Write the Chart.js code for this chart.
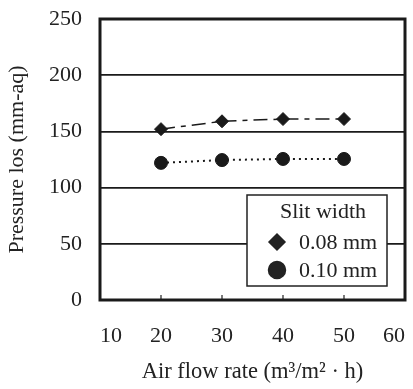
<!DOCTYPE html>
<html>
<head>
<meta charset="utf-8">
<script src="https://cdn.jsdelivr.net/npm/chart.js@4"></script>
<style>
  html, body { margin: 0; padding: 0; background: #fff; }
</style>
</head>
<body>
<canvas id="myChart" width="413" height="389"></canvas>
<script>
// values
var airFlow = [20, 30, 40, 50];
var slit008 = [152, 159, 161, 161];
var slit010 = [122, 124.5, 125.5, 125.5];
var seriesLabels = ['0.08 mm', '0.10 mm'];
var legendTitle = 'Slit width';
var xTitle = 'Air flow rate (m\u00B3/m\u00B2 \u00B7 h)';
var yTitle = 'Pressure los (mm-aq)';

var FONT = 'Liberation Serif';

function pts(ys) {
    return airFlow.map(function (x, i) { return { x: x, y: ys[i] }; });
}

// legend box, frame and inward x ticks
var extras = {
    id: 'extras',
    afterDraw: function (chart) {
        var ctx = chart.ctx;
        var a = chart.chartArea;
        var xs = chart.scales.x;

        // legend box inside plot
        var w = 140, h = 91;
        var bx = a.right - 18 - w, by = a.bottom - 14 - h;
        ctx.save();
        ctx.fillStyle = '#fff';
        ctx.fillRect(bx, by, w, h);
        ctx.lineWidth = 1.5;
        ctx.strokeStyle = '#222';
        ctx.strokeRect(bx, by, w, h);
        ctx.fillStyle = '#222';
        ctx.font = '22px "' + FONT + '"';
        ctx.textBaseline = 'middle';
        ctx.textAlign = 'center';
        ctx.fillText(legendTitle, bx + w / 2 + 6, by + 17);
        ctx.textAlign = 'left';
        chart.data.datasets.forEach(function (ds, i) {
            var yy = by + 47 + i * 28;
            ctx.fillStyle = '#222';
            ctx.strokeStyle = '#222';
            Chart.helpers.drawPoint(ctx, {
                pointStyle: ds.pointStyle,
                radius: ds.pointStyle === 'circle' ? 8.5 : 8,
                borderWidth: 1
            }, bx + 30, yy);
            ctx.fillStyle = '#222';
            ctx.fillText(ds.label, bx + 52, yy + 1);
        });

        // inward tick marks on the bottom axis
        ctx.strokeStyle = '#222';
        ctx.lineWidth = 1.2;
        airFlow.forEach(function (v) {
            var px = xs.getPixelForValue(v);
            ctx.beginPath();
            ctx.moveTo(px, a.bottom);
            ctx.lineTo(px, a.bottom - 5);
            ctx.stroke();
        });

        // plot frame
        ctx.lineWidth = 3;
        ctx.strokeStyle = '#1a1a1a';
        ctx.strokeRect(a.left, a.top, a.right - a.left, a.bottom - a.top);
        ctx.restore();
    }
};

var ctx = document.querySelector('#myChart').getContext('2d');
var myChart = new Chart(ctx, {
    type: 'line',
    data: {
        datasets: [{
            label: seriesLabels[0],
            data: pts(slit008),
            pointStyle: 'rectRot',
            pointRadius: 6.5,
            backgroundColor: '#1a1a1a',
            borderColor: '#1a1a1a',
            pointBorderWidth: 1,
            borderWidth: 1.5,
            borderDash: [14, 6, 5, 6]
        }, {
            label: seriesLabels[1],
            data: pts(slit010),
            pointStyle: 'circle',
            pointRadius: 6.5,
            backgroundColor: '#1a1a1a',
            borderColor: '#1a1a1a',
            pointBorderWidth: 1,
            borderWidth: 2,
            borderDash: [2, 4]
        }]
    },
    options: {
        responsive: false,
        animation: false,
        layout: { padding: { left: 0, right: 8, top: 19, bottom: 0 } },
        plugins: {
            legend: { display: false },
            tooltip: { enabled: false }
        },
        scales: {
            x: {
                type: 'linear',
                min: 10,
                max: 60,
                ticks: {
                    stepSize: 10,
                    align: 'inner',
                    color: '#222',
                    padding: 23,
                    font: { family: FONT, size: 22 }
                },
                grid: { display: false, drawTicks: false },
                border: { display: false },
                title: {
                    display: true,
                    text: xTitle,
                    color: '#222',
                    font: { family: FONT, size: 22.5 },
                    padding: { top: 0, bottom: 3 }
                },
                afterFit: function (s) {
                    s.height = 89;
                    s.paddingLeft = 0;
                    s.paddingRight = 0;
                }
            },
            y: {
                min: 0,
                max: 250,
                ticks: {
                    stepSize: 50,
                    color: '#222',
                    padding: 18,
                    font: { family: FONT, size: 22 }
                },
                grid: { color: '#1a1a1a', lineWidth: 1.8, drawTicks: false },
                border: { display: false },
                title: {
                    display: true,
                    text: yTitle,
                    color: '#222',
                    font: { family: FONT, size: 22 },
                    padding: { top: 4, bottom: 0 }
                },
                afterFit: function (s) {
                    s.width = 100;
                    s.paddingTop = 0;
                    s.paddingBottom = 0;
                }
            }
        }
    },
    plugins: [extras]
});
</script>
</body>
</html>
